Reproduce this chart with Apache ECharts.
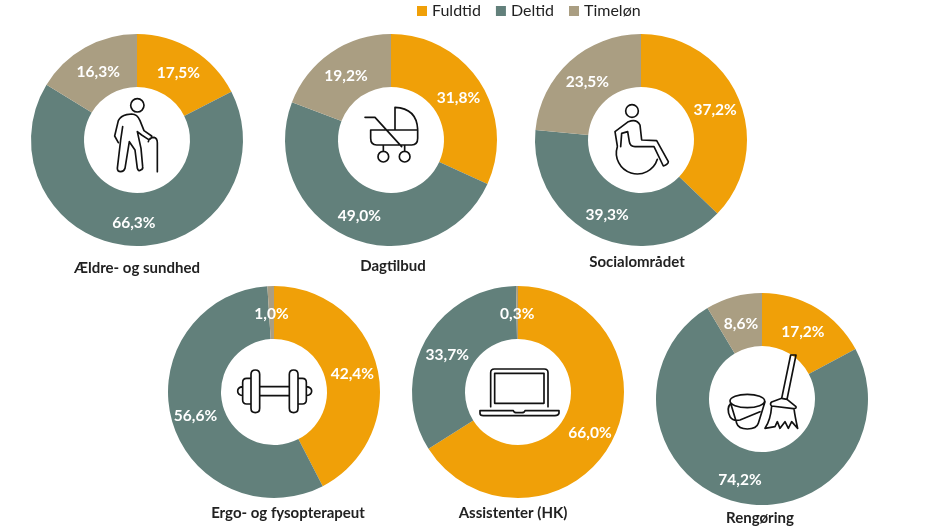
<!DOCTYPE html>
<html>
<head>
<meta charset="utf-8">
<script src="https://cdn.jsdelivr.net/npm/echarts@6/dist/echarts.min.js"></script>
<style>
  html, body { margin: 0; padding: 0; background: #fff; }
  #chart { width: 944px; height: 531px; }
</style>
</head>
<body>
<div id="chart"></div>
<script>
var panels = ['Ældre- og sundhed', 'Dagtilbud', 'Socialområdet', 'Ergo- og fysopterapeut', 'Assistenter (HK)', 'Rengøring'];
var seriesNames = ['Fuldtid', 'Deltid', 'Timeløn'];
var fuldtid = [17.5, 31.8, 37.2, 42.4, 66.0, 17.2];
var deltid = [66.3, 49.0, 39.3, 56.6, 33.7, 74.2];
var timeloen = [16.3, 19.2, 23.5, 1.0, 0.3, 8.6];

var colors = ['#F0A008', '#62807B', '#AA9E82'];
var centers = [[137, 140], [391, 140], [641, 140], [274, 392], [518, 392], [762, 399]];
var titlePos = [[137, 269], [393, 267], [637, 263], [288, 514], [513, 514], [760, 519]];

// icons, traced at 3x, with the offset of the crop they were traced in
var icons = [
    [0, 0, 'M432,316 a20,20 0 1,1 -40,0 a20,20 0 1,1 40,0 ' +
        'M368,380 L362,420 L352,505 Q352,515 362,515 Q372,515 375,505 L388,425 L405,450 L412,505 Q415,515 422,510 Q430,508 428,500 L423,445 L412,395 L425,405 L445,418 Q455,418 455,408 L432,392 L420,362 Q412,342 395,342 L380,344 Q362,348 355,362 L344,408 L355,428 ' +
        'M445,425 Q448,412 462,412 Q472,415 472,428 L472,515'],
    [0, 0, 'M1185,388 L1185,322 Q1250,325 1253,388 ' +
        'M1112,390 L1253,390 L1253,415 Q1253,435 1235,435 L1130,435 Q1112,435 1112,415 Z ' +
        'M1095,352 L1125,352 L1205,440 ' +
        'M1166,470 a16,16 0 1,1 -32,0 a16,16 0 1,1 32,0 M1230,470 a16,16 0 1,1 -32,0 a16,16 0 1,1 32,0 ' +
        'M1150,435 L1150,454 M1214,435 L1214,454'],
    [500, 0, 'M415,333 a19,19 0 1,1 -38,0 a19,19 0 1,1 38,0 ' +
        'M352,438 L345,395 L385,365 Q410,355 420,375 L425,420 L470,422 L505,485 Q505,492 490,498 L462,440 L405,440 Q390,440 388,425 L383,395 L365,400 L362,440 ' +
        'M352,440 A62,62 0 1,0 472,478'],
    [150, 280, 'M316,270 Q329,270 329,283 L329,385 Q329,398 316,398 Q303,398 303,385 L303,283 Q303,270 316,270 Z ' +
        'M431,270 Q444,270 444,283 L444,385 Q444,398 431,398 Q418,398 418,385 L418,283 Q418,270 431,270 Z ' +
        'M303,295 L290,295 Q278,295 278,307 L278,360 Q278,372 290,372 L303,372 ' +
        'M444,295 L457,295 Q469,295 469,307 L469,360 Q469,372 457,372 L444,372 ' +
        'M278,320 Q263,322 263,333 Q263,345 278,347 M469,320 Q485,322 485,333 Q485,345 469,347 ' +
        'M329,320 L418,320 M329,347 L418,347'],
    [150, 280, 'M1022,380 L1022,278 Q1022,267 1033,267 L1183,267 Q1194,267 1194,278 L1194,380 ' +
        'M1034,280 L1182,280 L1182,370 L1034,370 Z ' +
        'M990,392 L1090,392 Q1092,398 1100,398 L1115,398 Q1123,398 1125,392 L1227,392 L1227,400 Q1225,407 1215,407 L1000,407 Q990,407 990,400 Z'],
    [640, 280, 'M374,363 a52,20 0 1,1 -104,0 a52,20 0 1,1 104,0 ' +
        'M272,370 L290,430 Q295,447 322,447 Q350,447 355,430 L375,365 ' +
        'M272,370 Q258,385 270,410 Q280,425 300,420 L360,395 ' +
        'M425,355 L452,225 L468,225 L441,358 ' +
        'M425,355 L441,358 L468,380 Q470,386 460,386 L395,378 Q388,372 395,366 Z ' +
        'M395,378 Q392,420 375,445 L405,440 L412,425 L420,445 L435,425 L445,445 L455,425 L473,445 Q465,410 462,386']
];

function fmt(v) {
    return v.toFixed(1).replace('.', ',') + '%';
}

var pies = panels.map(function(name, i) {
    return {
        type: 'pie',
        name: name,
        center: centers[i],
        radius: [53, 106],
        startAngle: 90,
        clockwise: true,
        silent: true,
        label: {
            position: 'inside',
            fontFamily: 'Lato',
            fontSize: 15.5,
            fontWeight: 'bold',
            color: '#fff',
            formatter: function(p) { return fmt(p.value); }
        },
        // labels sit a little nearer the hole than the ring's mid radius
        labelLayout: function(params) {
            var cx = params.rect.x + params.rect.width / 2;
            var cy = params.rect.y + params.rect.height / 2;
            return {
                dx: (centers[i][0] - cx) * 0.035,
                dy: (centers[i][1] - cy) * 0.035 + 1.5
            };
        },
        labelLine: { show: false },
        data: [
            { name: seriesNames[0], value: fuldtid[i] },
            { name: seriesNames[1], value: deltid[i] },
            { name: seriesNames[2], value: timeloen[i] }
        ]
    };
});

// graphic component has no free path type, so the icons go through a custom series
var iconSeries = {
    type: 'custom',
    coordinateSystem: 'none',
    silent: true,
    z: 100,
    data: [0],
    renderItem: function() {
        return {
            type: 'group',
            children: icons.map(function(icon) {
                return {
                    type: 'path',
                    x: icon[0],
                    y: icon[1],
                    scaleX: 1 / 3,
                    scaleY: 1 / 3,
                    shape: { pathData: icon[2] },
                    style: { fill: null, stroke: '#111', lineWidth: 5, lineJoin: 'round', lineCap: 'round' }
                };
            })
        };
    }
};

var chart = echarts.init(document.getElementById('chart'));

chart.setOption({
    animation: false,
    backgroundColor: '#fff',
    color: colors,
    legend: {
        data: seriesNames,
        left: 412,
        top: -2,
        icon: 'rect',
        itemWidth: 10,
        itemHeight: 10,
        itemGap: 15,
        selectedMode: false,
        textStyle: { fontFamily: 'Lato', fontSize: 16, color: '#222' }
    },
    title: panels.map(function(name, i) {
        return {
            text: name,
            left: titlePos[i][0],
            top: titlePos[i][1] - 8,
            padding: 0,
            textAlign: 'center',
            textStyle: { fontFamily: 'Lato', fontSize: 15, fontWeight: 'bold', color: '#222' }
        };
    }),
    series: pies.concat([iconSeries])
});
</script>
</body>
</html>
